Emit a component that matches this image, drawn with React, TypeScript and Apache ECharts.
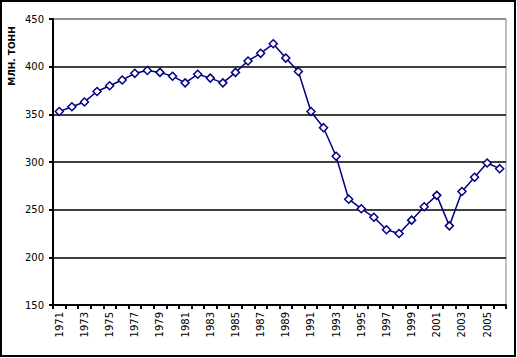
import React, { useEffect, useRef } from "react";
import * as echarts from "echarts";

const years: string[] = [
  "1971","1972","1973","1974","1975","1976","1977","1978","1979","1980",
  "1981","1982","1983","1984","1985","1986","1987","1988","1989","1990",
  "1991","1992","1993","1994","1995","1996","1997","1998","1999","2000",
  "2001","2002","2003","2004","2005","2006",
];

const production: number[] = [
  353, 358, 363, 374, 380, 386, 393, 396, 394, 390,
  383, 392, 388, 383, 394, 406, 414, 424, 409, 395,
  353, 336, 306, 261, 251, 242, 229, 225, 239, 253,
  265, 233, 269, 284, 299, 293,
];

const yTitle = "МЛН. ТОНН";

export default function App() {
  const ref = useRef<HTMLDivElement>(null);
  useEffect(() => {
    if (!ref.current) return;
    const chart = echarts.init(ref.current, undefined, { renderer: "svg" });
    chart.setOption({
      animation: false,
      backgroundColor: "#ffffff",
      grid: {
        left: 53,
        right: 11,
        top: 19,
        bottom: 53,
        show: true,
        borderColor: "#808080",
        borderWidth: 1,
        backgroundColor: "transparent",
      },
      xAxis: {
        type: "category",
        data: years,
        boundaryGap: true,
        axisLine: { lineStyle: { color: "#000", width: 2 } },
        axisTick: { show: true, interval: 0, length: 4, lineStyle: { color: "#000", width: 2 } },
        axisLabel: {
          interval: 1,
          rotate: 90,
          margin: 7,
          color: "#000",
          fontFamily: "DejaVu Sans",
          fontSize: 10,
        },
        splitLine: { show: false },
      },
      yAxis: {
        type: "value",
        min: 150,
        max: 450,
        interval: 50,
        axisLine: { show: true, lineStyle: { color: "#000", width: 2 } },
        axisTick: { show: true, length: 4, lineStyle: { color: "#000", width: 2 } },
        axisLabel: {
          margin: 9,
          color: "#000",
          fontFamily: "DejaVu Sans",
          fontSize: 10,
        },
        splitLine: {
          show: true,
          lineStyle: {
            color: ["#000", "#000", "#000", "#000", "#000", "#000", "#808080"],
            width: 1.5,
          },
        },
      },
      series: [
        {
          type: "line",
          data: production,
          symbol: "diamond",
          symbolSize: 8,
          itemStyle: { color: "#ffffff", borderColor: "#000080", borderWidth: 1.5 },
          lineStyle: { color: "#000080", width: 1.5 },
        },
      ],
      graphic: [
        {
          type: "rect",
          shape: { x: 1, y: 1, width: 514, height: 355 },
          style: { fill: "none", stroke: "#000", lineWidth: 2 },
          silent: true,
        },
        {
          type: "text",
          x: 12,
          y: 56,
          rotation: Math.PI / 2,
          style: {
            text: yTitle,
            fill: "#000",
            font: "bold 9px 'DejaVu Sans'",
            align: "center",
            verticalAlign: "middle",
          },
        },
      ],
    });
    return () => chart.dispose();
  }, []);
  return (
    <div
      ref={ref}
      style={{ position: "fixed", left: 0, top: 0, width: 517, height: 358 }}
    />
  );
}
